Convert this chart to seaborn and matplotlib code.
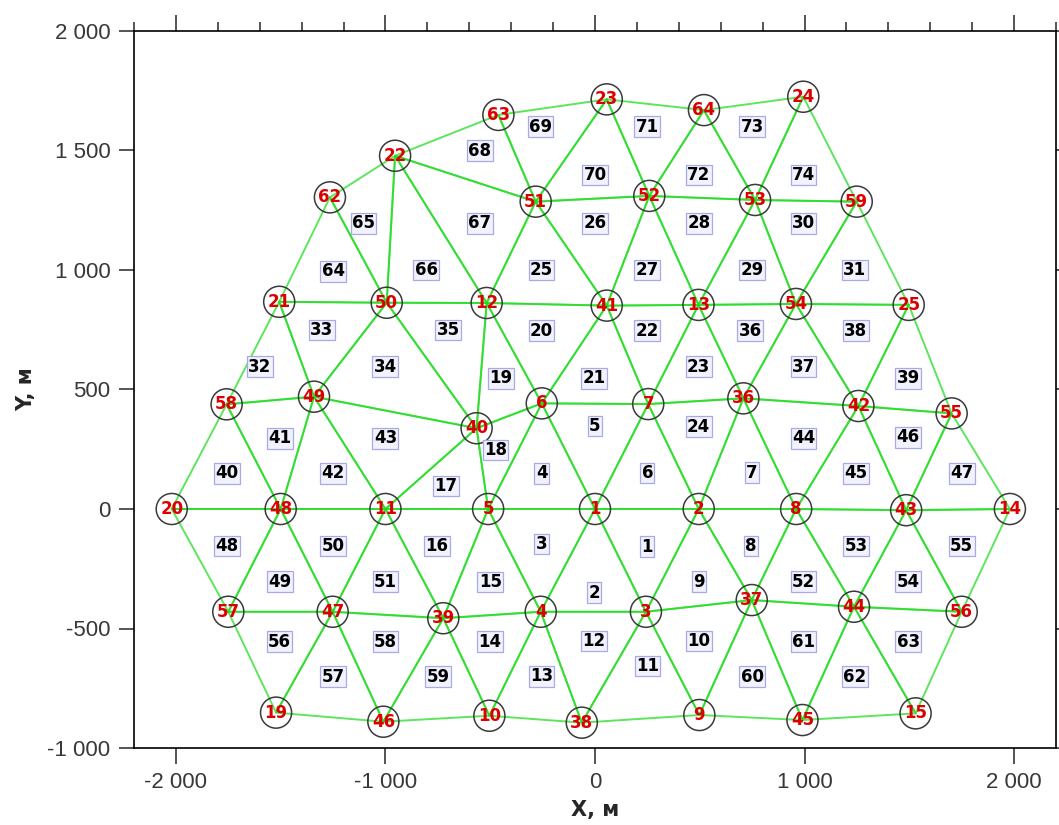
import numpy as np
import pandas as pd
import matplotlib
matplotlib.use('Agg')
import matplotlib.pyplot as plt
import seaborn as sns
from matplotlib.ticker import MultipleLocator, FuncFormatter

# mesh nodes (number, X, Y in metres)
node_id = [1, 2, 3, 4, 5, 6, 7, 8, 9, 10, 11, 12, 13, 14, 15, 19, 20, 21, 22, 23, 24, 25,
           36, 37, 38, 39, 40, 41, 42, 43, 44, 45, 46, 47, 48, 49, 50, 51, 52, 53, 54, 55,
           56, 57, 58, 59, 62, 63, 64]
node_x = [0, 495, 243, -259, -510, -254, 254, 960, 498, -504, -1000, -517, 494, 1980, 1530,
          -1522, -2020, -1507, -954, 56, 994, 1497,
          708, 748, -63, -724, -565, 56, 1257, 1485, 1236, 990, -1010, -1252, -1500, -1341,
          -994, -283, 259, 764, 959, 1702, 1750, -1750, -1758, 1249, -1265, -461, 520]
node_y = [0, 0, -430, -430, 0, 442, 439, 0, -862, -865, 0, 862, 854, 0, -855,
          -852, 0, 867, 1478, 1714, 1725, 854,
          463, -381, -894, -457, 338, 851, 431, -5, -409, -883, -890, -430, 0, 470,
          863, 1286, 1310, 1293, 858, 400, -430, -430, 438, 1286, 1304, 1649, 1669]

# triangular elements 1..74 (node numbers)
elements = [
    (1, 2, 3), (1, 3, 4), (1, 4, 5), (1, 5, 6), (1, 6, 7), (1, 7, 2), (2, 8, 36), (2, 8, 37),
    (2, 37, 3), (3, 37, 9), (3, 9, 38), (3, 38, 4), (4, 38, 10), (4, 10, 39), (4, 39, 5),
    (5, 39, 11), (5, 11, 40), (5, 40, 6), (40, 12, 6), (12, 41, 6), (6, 41, 7), (41, 13, 7),
    (7, 13, 36), (7, 36, 2), (12, 51, 41), (51, 52, 41), (41, 52, 13), (52, 53, 13),
    (13, 53, 54), (53, 59, 54), (54, 59, 25), (21, 58, 49), (21, 50, 49), (50, 40, 49),
    (50, 12, 40), (13, 54, 36), (54, 42, 36), (54, 25, 42), (25, 55, 42), (20, 58, 48),
    (58, 49, 48), (49, 11, 48), (49, 40, 11), (36, 42, 8), (42, 43, 8), (42, 55, 43),
    (55, 14, 43), (20, 48, 57), (48, 47, 57), (48, 11, 47), (11, 39, 47), (8, 44, 37),
    (8, 43, 44), (43, 56, 44), (43, 14, 56), (57, 47, 19), (47, 46, 19), (47, 39, 46),
    (39, 10, 46), (37, 45, 9), (37, 44, 45), (44, 15, 45), (44, 56, 15), (21, 62, 50),
    (62, 22, 50), (22, 12, 50), (22, 51, 12), (22, 63, 51), (63, 23, 51), (23, 52, 51),
    (23, 64, 52), (64, 53, 52), (64, 24, 53), (24, 59, 53),
]

# element number label positions (X, Y in metres)
elem_x = [250, -5, -255, -255, 0, 250, 750, 745, 495, 495, 250, -5, -255, -500, -500,
          -755, -710, -475, -450, -255, -5, 250, 495, 495, -255, 0, 250, 495, 750, 995,
          1240, -1600, -1305, -1000, -700, 740, 995, 1245, 1495, -1755, -1505, -1250, -1000,
          995, 1245, 1495, 1750, -1755, -1505, -1250, -1000, 995, 1245, 1495, 1750, -1505,
          -1250, -1000, -750, 750, 995, 1240, 1495, -1250, -1105, -805, -550, -550, -260,
          0, 250, 495, 750, 995]
elem_y = [-158, -350, -146, 149, 347, 151, 152, -155, -304, -552, -657, -552, -700, -555,
          -305, -155, 96, 247, 547, 746, 547, 746, 595, 344, 1000, 1195, 1000, 1195, 1000,
          1195, 1000, 595, 749, 595, 749, 746, 595, 746, 547, 149, 296, 149, 296, 296, 149,
          300, 149, -155, -304, -155, -304, -304, -155, -304, -155, -555, -702, -555, -702,
          -702, -555, -702, -555, 995, 1195, 1000, 1195, 1499, 1600, 1397, 1600, 1397, 1600,
          1397]

pos = {n: (x, y) for n, x, y in zip(node_id, node_x, node_y)}

rows = []
for k, tri in enumerate(elements, start=1):
    for n in list(tri) + [tri[0]]:
        rows.append({'elem': k, 'x': pos[n][0], 'y': pos[n][1]})
edges = pd.DataFrame(rows)

sns.set_style('white')
plt.rcParams['font.family'] = ['DejaVu Sans']

fig = plt.figure(figsize=(10.59, 8.25), dpi=100)
ax = fig.add_axes([134 / 1059, 1 - 748 / 825, (1056 - 134) / 1059, (748 - 31) / 825])

sns.lineplot(data=edges, x='x', y='y', units='elem', estimator=None, sort=False,
             color='#1fdc1f', alpha=0.72, lw=1.4, legend=False, ax=ax)
sns.scatterplot(x=node_x, y=node_y, s=500, facecolor='none', edgecolor='#3a3a3a',
                linewidth=1.1, ax=ax, zorder=3)

for n, x, y in zip(node_id, node_x, node_y):
    ax.text(x, y, str(n), color='#dd0000', fontsize=12, fontweight='bold',
            ha='center', va='center', zorder=5)

for k, (x, y) in enumerate(zip(elem_x, elem_y), start=1):
    ax.text(x, y, str(k), color='black', fontsize=12, fontweight='bold',
            ha='center', va='center', zorder=4,
            bbox=dict(boxstyle='square,pad=0.08', fc='#f2f2ff', ec='#a9a9e6', lw=0.9))

ax.set_xlim(-2200, 2200)
ax.set_ylim(-1000, 2000)
ax.xaxis.set_major_locator(MultipleLocator(1000))
ax.xaxis.set_minor_locator(MultipleLocator(200))
ax.yaxis.set_major_locator(MultipleLocator(500))
fmt = FuncFormatter(lambda v, p: f"{v:,.0f}".replace(",", " "))
ax.xaxis.set_major_formatter(fmt)
ax.yaxis.set_major_formatter(fmt)

ax.tick_params(axis='x', which='major', bottom=True, top=True, direction='out',
               length=11.5, width=1.1, pad=6, labelsize=16, labelcolor='#383838')
ax.tick_params(axis='x', which='minor', bottom=False, top=True, direction='out',
               length=6.7, width=1.1)
ax.tick_params(axis='y', which='major', left=True, right=True, direction='out',
               length=11, width=1.1, pad=6, labelsize=16, labelcolor='#383838')
for lab in ax.get_xticklabels() + ax.get_yticklabels():
    lab.set_fontfamily('Liberation Sans')

for s in ax.spines.values():
    s.set_color('black')
    s.set_linewidth(1.2)

ax.set_xlabel('X, м', fontsize=15, fontweight='bold', labelpad=5)
ax.set_ylabel('Y, м', fontsize=15, fontweight='bold', labelpad=8)

fig.savefig('out.png', dpi=100)
